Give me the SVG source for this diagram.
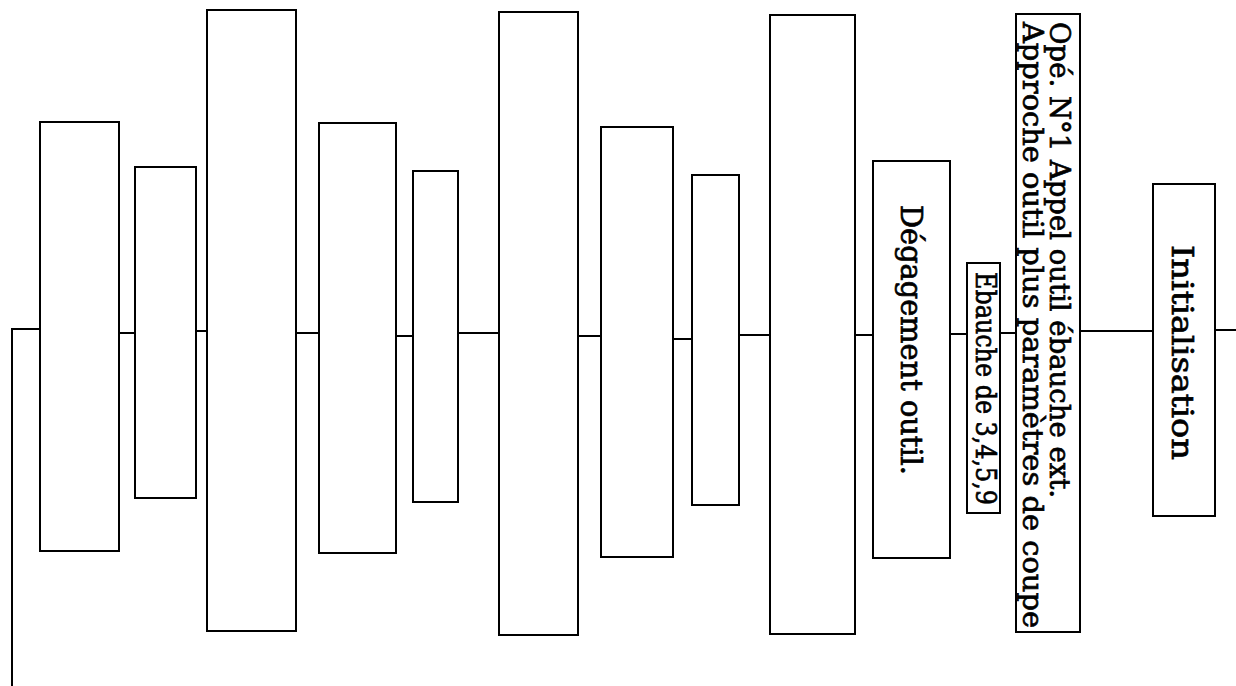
<svg xmlns="http://www.w3.org/2000/svg" width="1236" height="686" viewBox="0 0 1236 686">
<style>
.box{fill:#fff;stroke:#000;stroke-width:2}
.conn{fill:none;stroke:#000;stroke-width:2}
.lbl{font-family:"DejaVu Serif","Liberation Serif",serif;font-size:29px;fill:#000;stroke:#000;stroke-width:0.7}
.sm{font-size:27px}
</style>
<rect x="0" y="0" width="1236" height="686" fill="#fff"/>
<g id="connectors">
<polyline class="conn" points="12,686 12,329 40,329"/>
<line class="conn" x1="119" y1="333" x2="135" y2="333"/>
<line class="conn" x1="196" y1="331" x2="207" y2="331"/>
<line class="conn" x1="296" y1="333" x2="319" y2="333"/>
<line class="conn" x1="396" y1="336" x2="413" y2="336"/>
<line class="conn" x1="458" y1="333" x2="499" y2="333"/>
<line class="conn" x1="578" y1="336" x2="601" y2="336"/>
<line class="conn" x1="673" y1="339" x2="692" y2="339"/>
<line class="conn" x1="739" y1="335" x2="770" y2="335"/>
<line class="conn" x1="855" y1="335" x2="873" y2="335"/>
<line class="conn" x1="950" y1="334" x2="967" y2="334"/>
<line class="conn" x1="1000" y1="333" x2="1016" y2="333"/>
<line class="conn" x1="1080" y1="331" x2="1153" y2="331"/>
<line class="conn" x1="1215" y1="330" x2="1236" y2="330"/>
</g>
<g id="box-a"><rect class="box" x="40" y="122" width="79" height="429"/></g>
<g id="box-b"><rect class="box" x="135" y="167" width="61" height="331"/></g>
<g id="box-c"><rect class="box" x="207" y="10" width="89" height="621"/></g>
<g id="box-d"><rect class="box" x="319" y="123" width="77" height="430"/></g>
<g id="box-e"><rect class="box" x="413" y="171" width="45" height="331"/></g>
<g id="box-f"><rect class="box" x="499" y="12" width="79" height="623"/></g>
<g id="box-g"><rect class="box" x="601" y="127" width="72" height="430"/></g>
<g id="box-h"><rect class="box" x="692" y="175" width="47" height="330"/></g>
<g id="box-i"><rect class="box" x="770" y="15" width="85" height="619"/></g>
<g id="degagement">
<rect class="box" x="873" y="161" width="77" height="397"/>
<text class="lbl" transform="translate(901,205) rotate(90)" textLength="270" lengthAdjust="spacingAndGlyphs">Dégagement outil.</text>
</g>
<g id="ebauche">
<rect class="box" x="967" y="263" width="33" height="250"/>
<text class="lbl sm" transform="translate(976,272) rotate(90)" textLength="233" lengthAdjust="spacingAndGlyphs">Ebauche de 3,4,5,9</text>
</g>
<g id="ope1">
<rect class="box" x="1016" y="14" width="64" height="618"/>
<text class="lbl sm" transform="translate(1050,22) rotate(90)" textLength="476" lengthAdjust="spacingAndGlyphs">Opé. N°1 Appel outil ébauche ext.</text>
<text class="lbl sm" transform="translate(1023,22) rotate(90)" textLength="606" lengthAdjust="spacingAndGlyphs">Approche outil plus paramètres de coupe</text>
</g>
<g id="initialisation">
<rect class="box" x="1153" y="184" width="62" height="332"/>
<text class="lbl" transform="translate(1172,245) rotate(90)" textLength="215" lengthAdjust="spacingAndGlyphs">Initialisation</text>
</g>
</svg>
